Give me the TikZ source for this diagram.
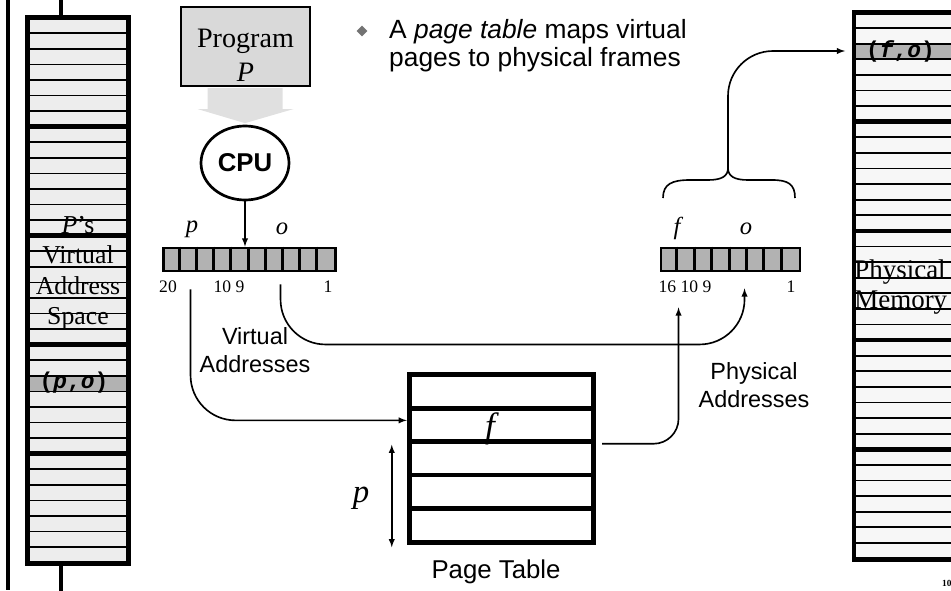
\documentclass[tikz,border=0pt]{standalone}
\usepackage{fontspec}
\setmainfont{Liberation Serif}
\setsansfont{Liberation Sans}
\setmonofont{Liberation Mono}
\usetikzlibrary{positioning}
\usetikzlibrary{calc}
\usetikzlibrary{shapes.geometric}
\usetikzlibrary{arrows}
\tikzset{
    % Small solid arrow heads, as on the slide
    >=latex,
%
    % Heavy outline of a memory column or of the page table
    frame/.style={draw, line width=4pt},
%
    % Thin line between two words of memory
    row line/.style={line width=1.5pt},
%
    % Heavy line between two pages of memory
    page line/.style={line width=4pt},
%
    % An address register, cut up into bits later
    register/.style={
        draw, line width=2.5pt, fill=black!30, inner sep=0,
        minimum height=6.9mm},
%
    % Lines that carry an address from place to place
    link/.style={line width=1.4pt, rounded corners=13.5mm},
%
    % The memory word that is addressed
    word fill/.style={fill=black!30},
%
    % Text on the slide
    slide text/.style={font=\sffamily\fontsize{20}{24}\selectfont,
        align=center, inner sep=0},
    bit number/.style={font=\fontsize{15}{15}\selectfont, inner sep=0},
    field name/.style={font=\itshape\fontsize{21}{21}\selectfont, inner sep=0},
    word text/.style={font=\ttfamily\bfseries\fontsize{19.5}{19.5}\selectfont,
        inner sep=0}}

\begin{document}
\begin{tikzpicture}[x=0.3mm, y=-0.3mm]

\useasboundingbox (0,0) rectangle (951,590);
\clip (0,0) rectangle (951,590);

% Virtual address space of P

\draw [line width=2.6pt] (8,0) -- (8,590);

\node [fill=black!7, minimum width=30.3mm, minimum height=163.5mm,
    inner sep=0] (vspace) at (78,290.5) {};
\fill [word fill]
    ($(vspace.north west)+(0,23*15.57)$) rectangle ++(101,15.57);
\foreach \r in {1,...,34}
    \draw [row line] ($(vspace.north west)+(0,\r*15.57)$) -- ++(101,0);
\foreach \r in {7,14,21,28}
    \draw [page line] ($(vspace.north west)+(-2,\r*15.57)$) -- ++(105,0);
\draw [frame] (vspace.north west) rectangle (vspace.south east);
\path [line width=3.4pt]
    ($(vspace.north)+(-17,0)$) [draw] -- ++(0,-20)
    ($(vspace.south)+(-17,0)$) [draw] -- ++(0,30);

\node [font=\fontsize{22}{26}\selectfont, align=center, inner sep=0]
    (vspace label) at (78,273) {\textit{P}’s\\Virtual\\Address\\Space};
\node [word text] (po word) at (74,383)
    {(\textit{p},\textit{o})};

% Program, CPU and the virtual address

\node [draw, line width=1.7pt, fill=black!15, minimum width=38.7mm,
    minimum height=23.1mm, align=center,
    font=\fontsize{24}{29}\selectfont] (prog) at (245.5,46.5)
    {\rule{0pt}{31pt}Program\\\textit{P}};

\node [ellipse, draw, line width=2.3pt, fill=white, minimum width=25.2mm,
    minimum height=22.2mm, font=\sffamily\bfseries\fontsize{22}{22}\selectfont]
    (cpu) at (245,163) {CPU};

\fill [black!12]
    ($(prog.south)+(-38,1.5)$) -- ++(75,0) -- ++(0,21) -- ++(11,0)
    -- ($(cpu.north)+(0,-1.5)$)
    -- ($(prog.south)+(-48,22.5)$) -- ++(10,0) -- cycle;

\node [register, minimum width=51.6mm] (vreg) at (249.5,259.5) {};
\foreach \i in {1,...,9}
    \draw [line width=2.5pt] ($(vreg.north west)+(\i*17.2,0)$) -- ++(0,23);

\draw [->, line width=1.4pt] (cpu) -- (cpu |- vreg.north);

\node [field name] (p field) at (192,229) {p};
\node [field name] (o field) at (282,229) {o};
\node [bit number] (v20) at (168,287) {20};
\node [bit number] (v10) at (229,287) {10 9};
\node [bit number] (v1) at (328,287) {1};

\node [slide text] (virt label) at (255,350) {Virtual\\Addresses};

% The page table

\node [fill=white, minimum width=54.9mm, minimum height=50.1mm,
    inner sep=0] (ptable) at (501.5,458.5) {};
\foreach \r in {1,...,4}
    \draw [page line] ($(ptable.north west)+(0,\r*33.4)$) -- ++(183,0);
\draw [frame] (ptable.north west) rectangle (ptable.south east);

\node [font=\itshape\fontsize{30}{30}\selectfont, inner sep=0, anchor=base]
    (f entry) at (490,437) {f};
\node [slide text, font=\sffamily\fontsize{22}{22}\selectfont]
    (pt caption) at (496,572) {Page Table};

\draw [<->, line width=1.4pt]
    ($(ptable.north west)+(-18,70)$) -- ($(ptable.south west)+(-18,5)$)
    coordinate (p span) {};
\node [font=\itshape\fontsize{28}{28}\selectfont, inner sep=0]
    (p offset) at (361,498) {p};

% The physical address

\node [register, minimum width=41.7mm] (preg) at (730.5,259.5) {};
\foreach \i in {1,...,7}
    \draw [line width=2.5pt] ($(preg.north west)+(\i*17.375,0)$) -- ++(0,23);

\node [field name] (f field) at (677,228) {f};
\node [field name] (o field 2) at (746,229) {o};
\node [bit number] (p16) at (685,287) {16 10 9};
\node [bit number] (p1) at (791,287) {1};

\node [slide text] (phys label) at (754,385) {Physical\\Addresses};

\coordinate (brace tip) at (728,168);
\draw [line width=1.4pt]
    (663,198) .. controls (663,184) and (672,180) .. (690,180) -- (708,180)
    .. controls (722,180) and (728,176) .. (brace tip)
    .. controls (728,176) and (734,180) .. (748,180) -- (772,180)
    .. controls (788,180) and (795,184) .. (795,198);

% Physical memory

\node [fill=black!3, minimum width=45mm, minimum height=164mm,
    inner sep=0, anchor=north west] (pmem) at (854,12.5) {};
\fill [word fill]
    ($(pmem.north west)+(0,2*15.6)$) rectangle ++(150,15.6);
\foreach \r in {1,...,34}
    \draw [row line] ($(pmem.north west)+(0,\r*15.6)$) -- ++(150,0);
\foreach \r in {7,14,21,28}
    \draw [page line] ($(pmem.north west)+(0,\r*15.6)$) -- ++(150,0);
\draw [frame] (pmem.north west) rectangle (pmem.south east);

\node [word text, anchor=west] (fo word) at (866,51)
    {(\textit{f},\textit{o})};
\node [font=\fontsize{23}{25}\selectfont, align=left, inner sep=1pt,
    anchor=west] (pmem label) at (853,287) {Physical\\Memory};

% Address lines

\coordinate (p bits) at ($(vreg.south west)+(28.5,17)$);
\coordinate (o bits) at ($(vreg.south west)+(118.5,12)$);
\coordinate (o in) at ($(preg.south west)+(85,16)$);
\coordinate (f out) at ($(ptable.north east)+(9,69)$);
\coordinate (f in) at ($(preg.south west)+(19,35)$);

\draw [link, ->] (p bits) |- ($(ptable.west |- f entry)+(-3,-8)$);
\draw [link, ->] (o bits) -- ++(0,60) -| (o in);
\draw [link, rounded corners=7.5mm, ->] (f out) -| (f in);
\draw [link, ->] (brace tip) |- ($(pmem.north west |- fo word)+(-9,0)$);

% Bullet text

\node [diamond, fill=black!55, minimum size=3.3mm, inner sep=0]
    (bullet) at (362,31) {};
\node [font=\sffamily\fontsize{22.5}{24}\selectfont, align=left, inner sep=0,
    anchor=west] (bullet text) at (389,46)
    {A \textit{page table} maps virtual\\pages to physical frames};

\node [font=\bfseries\fontsize{8}{8}\selectfont, anchor=west, inner sep=0]
    (page no) at (942,583) {10};

\end{tikzpicture}
\end{document}
